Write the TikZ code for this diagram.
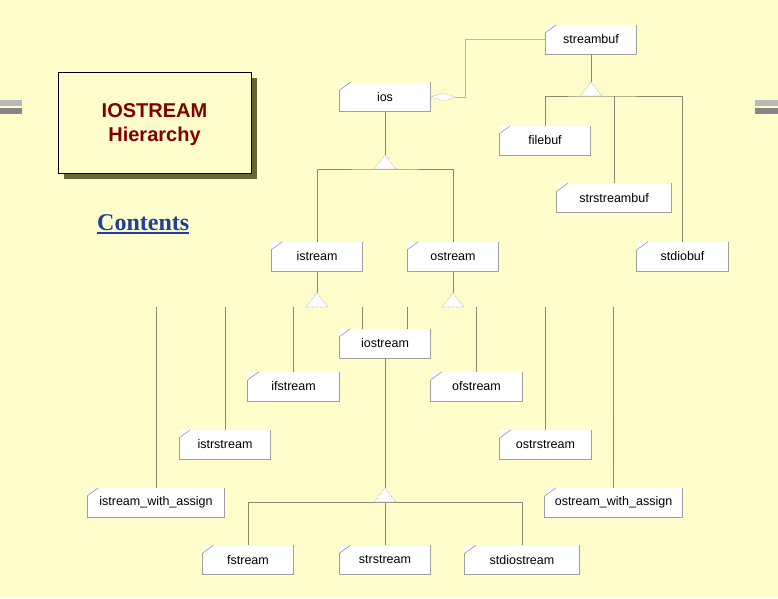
\documentclass[tikz,border=0pt]{standalone}
\usepackage{fontspec}
\setmainfont{Liberation Sans}
\newfontfamily\linkfont{Liberation Serif}

\definecolor{slide}{RGB}{255,253,204}
\definecolor{lineclr}{RGB}{140,138,110}
\definecolor{titlered}{RGB}{128,0,0}
\definecolor{shadowclr}{RGB}{102,102,51}
\definecolor{linkblue}{RGB}{31,62,158}

\tikzset{
  clsbox/.style={fill=white, minimum width=91pt, minimum height=29pt, inner sep=0pt,
    font=\fontsize{12.5}{14}\selectfont},
  widebox/.style={minimum width=114pt},
  widerbox/.style={minimum width=137pt},
  boxline/.style={draw=gray!75, line width=0.7pt},
  conn/.style={draw=lineclr, line width=0.8pt},
  gen/.style={draw=gray!70, densely dotted, fill=white, line width=0.6pt},
}

\begin{document}
\begin{tikzpicture}[x=1pt,y=-1pt]
\useasboundingbox (0,0) rectangle (778,598);
\fill[slide] (0,0) rectangle (778,598);

% side bars
\fill[gray!55] (0,100) rectangle (22,106);
\fill[gray!95] (0,108) rectangle (22,114);
\fill[gray!55] (755,100) rectangle (778,106);
\fill[gray!95] (755,108) rectangle (778,114);

% title
\fill[shadowclr] (64,78) rectangle (257,179);
\node[draw=black, line width=0.8pt, fill=slide, minimum width=193pt, minimum height=101pt, inner sep=0pt] (title) at (154.5,122.5) {};
\node[font=\bfseries\fontsize{20}{24}\selectfont, text=titlered, align=center] (titletxt) at ([yshift=-2.5pt]title.center) {IOSTREAM\\Hierarchy};

\node[anchor=base west, inner sep=0pt, font=\linkfont\bfseries\fontsize{24}{28}\selectfont, text=linkblue] (contents) at (97,230) {Contents};
\draw[linkblue, line width=1.4pt] ([yshift=-3pt]contents.base west) -- ([yshift=-3pt]contents.base east);

% classes
\node[clsbox] (streambuf) at (591,39.5) {streambuf};
\node[clsbox] (ios) at (385,97) {ios};
\node[clsbox] (filebuf) at (545,140.5) {filebuf};
\node[clsbox, widebox] (strstreambuf) at (614,198) {strstreambuf};
\node[clsbox] (stdiobuf) at (682.5,256.5) {stdiobuf};
\node[clsbox] (istream) at (317,256.5) {istream};
\node[clsbox] (ostream) at (453,256.5) {ostream};
\node[clsbox] (iostream) at (385,343.5) {iostream};
\node[clsbox] (ifstream) at (293.5,386.5) {ifstream};
\node[clsbox] (ofstream) at (476.5,386.5) {ofstream};
\node[clsbox] (istrstream) at (225,444.5) {istrstream};
\node[clsbox] (ostrstream) at (545.5,444.5) {ostrstream};
\node[clsbox, widerbox] (istreamwa) at (156,502.5) {istream\_with\_assign};
\node[clsbox, widerbox] (ostreamwa) at (613.5,502.5) {ostream\_with\_assign};
\node[clsbox] (fstream) at (248,560) {fstream};
\node[clsbox] (strstream) at (385,560) {strstream};
\node[clsbox, widebox] (stdiostream) at (522,560) {stdiostream};

\foreach \n in {streambuf,ios,filebuf,strstreambuf,stdiobuf,istream,ostream,iostream,ifstream,ofstream,istrstream,ostrstream,istreamwa,ostreamwa,fstream,strstream,stdiostream} {
  \draw[boxline] ([yshift=-8pt]\n.north west) -- (\n.south west) -- (\n.south east) -- (\n.north east);
  \draw[boxline] ([yshift=-8pt]\n.north west) -- ([xshift=11pt]\n.north west);
}

% generalisation points
\coordinate (sbtri) at (591,82);
\coordinate (iostri) at (385,155);
\coordinate (istri) at (317,293);
\coordinate (ostri) at (453,293);
\coordinate (iotri) at (385,488);
\coordinate (sbbus) at (591,96);
\coordinate (iosbus) at (385,169);
\coordinate (isbus) at (317,307);
\coordinate (osbus) at (453,307);
\coordinate (iobus) at (385,502);

\draw[conn] (streambuf.south) -- (sbtri);
\draw[conn] (filebuf.north) |- (sbbus) -| (stdiobuf.north);
\draw[conn] (strstreambuf.north) -- (strstreambuf.north |- sbbus);

\draw[conn] (ios.south) -- (iostri);
\draw[conn] (istream.north) |- (iosbus) -| (ostream.north);

\draw[conn] (istream.south) -- (istri);
\draw[conn] (ostream.south) -- (ostri);
\foreach \c in {istreamwa,istrstream,ifstream} \draw[conn] (\c.north |- isbus) -- (\c.north);
\draw[conn] (istream.east |- isbus) -- (istream.east |- iostream.north);
\foreach \c in {ofstream,ostrstream,ostreamwa} \draw[conn] (\c.north |- osbus) -- (\c.north);
\draw[conn] (ostream.west |- osbus) -- (ostream.west |- iostream.north);

\draw[conn] (iostream.south) -- (iotri);
\draw[conn] (fstream.north) |- (iobus) -| (stdiostream.north);
\draw[conn] (iobus) -- (strstream.north);

\foreach \t in {sbtri,iostri,istri,ostri,iotri}
  \draw[gen] (\t) -- ++(-11,14) -- ++(22,0) -- cycle;

% ios holds a streambuf
\coordinate (aggend) at ([xshift=25pt]ios.east);
\draw[conn, draw=lineclr!60] (aggend) -- ++(10,0) |- (streambuf.west);
\draw[gen] (ios.east) -- ++(12.5,-4) -- ++(12.5,4) -- ++(-12.5,4) -- cycle;

\end{tikzpicture}
\end{document}
